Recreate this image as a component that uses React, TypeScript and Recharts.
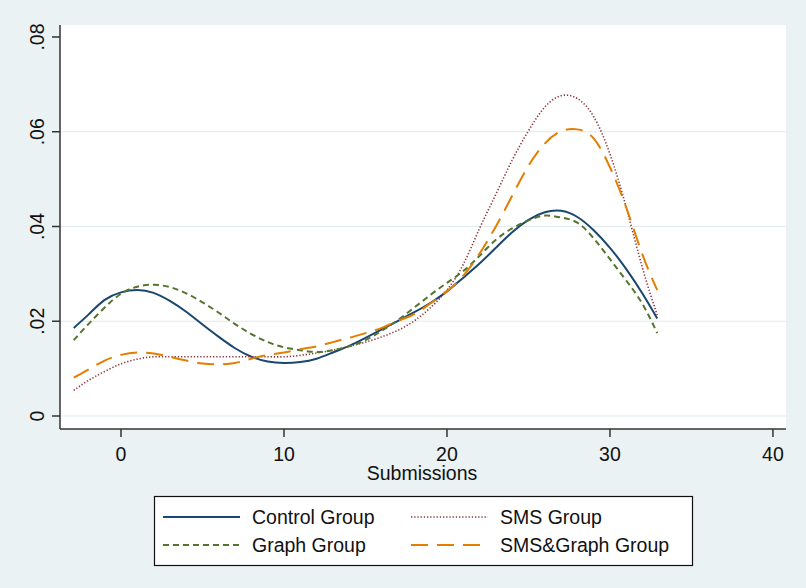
import React from 'react';
import { LineChart, Line, XAxis, YAxis, ReferenceArea, ReferenceLine } from 'recharts';

const xs = [-2.9, -2, -1, 0, 1, 2, 3, 4, 5, 6, 7, 8, 9, 10, 11, 12, 13, 14, 15, 16, 17, 18, 19, 20, 21, 22, 23, 24, 25, 26, 27, 28, 29, 30, 31, 32, 32.9];

const controlGroup = [0.0186, 0.0214, 0.0245, 0.0261, 0.0266, 0.0260, 0.0243, 0.0220, 0.0193, 0.0167, 0.0143, 0.0125, 0.0115, 0.0112, 0.0114, 0.0121, 0.0134, 0.0148, 0.0165, 0.0183, 0.0201, 0.0219, 0.0239, 0.0263, 0.0292, 0.0322, 0.0355, 0.0388, 0.0414, 0.0430, 0.0433, 0.0420, 0.0392, 0.0355, 0.0310, 0.0258, 0.0206];

const smsGroup = [0.0054, 0.0075, 0.0094, 0.0110, 0.0120, 0.0125, 0.0125, 0.0125, 0.0125, 0.0125, 0.0125, 0.0125, 0.0125, 0.0125, 0.0128, 0.0133, 0.0139, 0.0147, 0.0156, 0.0167, 0.0181, 0.0201, 0.0229, 0.0266, 0.0320, 0.0396, 0.0468, 0.0540, 0.0602, 0.0652, 0.0676, 0.0670, 0.0632, 0.0553, 0.0440, 0.0312, 0.0213];

const graphGroup = [0.0160, 0.0194, 0.0229, 0.0258, 0.0273, 0.0277, 0.0272, 0.0259, 0.0240, 0.0218, 0.0194, 0.0173, 0.0156, 0.0145, 0.0139, 0.0135, 0.0139, 0.0147, 0.0160, 0.0180, 0.0203, 0.0229, 0.0256, 0.0281, 0.0306, 0.0338, 0.0372, 0.0396, 0.0413, 0.0423, 0.0419, 0.0408, 0.0375, 0.0331, 0.0286, 0.0236, 0.0175];

const smsGraphGroup = [0.0081, 0.0098, 0.0117, 0.0129, 0.0134, 0.0132, 0.0125, 0.0117, 0.0111, 0.0109, 0.0112, 0.0121, 0.0129, 0.0134, 0.0141, 0.0147, 0.0156, 0.0165, 0.0175, 0.0186, 0.0201, 0.0215, 0.0238, 0.0263, 0.0296, 0.0343, 0.0400, 0.0465, 0.0528, 0.0575, 0.0601, 0.0605, 0.0586, 0.0525, 0.0440, 0.0340, 0.0266];

const xTicks = [0, 10, 20, 30, 40];
const yTicks = [0, 0.02, 0.04, 0.06, 0.08];
const yTickLabels = ['0', '.02', '.04', '.06', '.08'];
const gridValues = [0, 0.02, 0.04, 0.06];
const xTitle = 'Submissions';

const seriesNames = ['Control Group', 'SMS Group', 'Graph Group', 'SMS&Graph Group'];

const data = xs.map((x, i) => ({
  x,
  control: controlGroup[i],
  sms: smsGroup[i],
  graph: graphGroup[i],
  smsGraph: smsGraphGroup[i],
}));

const FONT = '"Liberation Sans", Arial, sans-serif';
const FS = 19.5;
const X_DOMAIN: [number, number] = [-3.742, 40.8];
const Y_DOMAIN: [number, number] = [-0.002744, 0.08253];

const styles = {
  control: { color: '#1A476F', dash: undefined as string | undefined, width: 2 },
  sms: { color: '#90353B', dash: '1.3 1.9', width: 1.6 },
  graph: { color: '#55752F', dash: '6 4', width: 2 },
  smsGraph: { color: '#E37E00', dash: '17 9', width: 2 },
};

const YTick = (props: any) => {
  const { x, y, payload } = props;
  const idx = yTicks.indexOf(payload.value);
  const label = idx >= 0 ? yTickLabels[idx] : String(payload.value);
  const tx = x - 6;
  return (
    <text x={tx} y={y} transform={`rotate(-90, ${tx}, ${y})`} textAnchor="middle" fontSize={FS} fontFamily={FONT} fill="#111">
      {label}
    </text>
  );
};

const XTick = (props: any) => {
  const { x, y, payload } = props;
  return (
    <text x={x} y={y} dy={22} textAnchor="middle" fontSize={FS} fontFamily={FONT} fill="#111">
      {payload.value}
    </text>
  );
};

const legendItems = [
  { key: 'control', name: seriesNames[0], lx: 163, tx: 252, ty: 517 },
  { key: 'sms', name: seriesNames[1], lx: 411, tx: 500, ty: 517 },
  { key: 'graph', name: seriesNames[2], lx: 163, tx: 252, ty: 545 },
  { key: 'smsGraph', name: seriesNames[3], lx: 411, tx: 500, ty: 545 },
];

export default function App() {
  return (
    <div style={{ position: 'fixed', left: 0, top: 0, width: 806, height: 588, background: '#EAF2F3' }}>
      <LineChart width={806} height={588} data={data} margin={{ top: 25, right: 20, left: 0, bottom: 0 }}>
        <XAxis
          dataKey="x"
          type="number"
          domain={X_DOMAIN}
          ticks={xTicks}
          allowDataOverflow
          height={159}
          tickSize={8}
          tick={<XTick />}
          axisLine={{ stroke: '#333', strokeWidth: 1.5 }}
          tickLine={{ stroke: '#333', strokeWidth: 1.5 }}
        />
        <YAxis
          type="number"
          domain={Y_DOMAIN}
          ticks={yTicks}
          allowDataOverflow
          width={60}
          tickSize={8}
          tick={<YTick />}
          axisLine={{ stroke: '#333', strokeWidth: 1.5 }}
          tickLine={{ stroke: '#333', strokeWidth: 1.5 }}
        />
        <ReferenceArea x1={X_DOMAIN[0]} x2={X_DOMAIN[1]} y1={Y_DOMAIN[0]} y2={Y_DOMAIN[1]} fill="#FFFFFF" fillOpacity={1} stroke="none" />
        {gridValues.map((g) => (
          <ReferenceLine key={g} y={g} stroke="#E1EAEC" strokeWidth={1.2} />
        ))}
        {(['control', 'sms', 'graph', 'smsGraph'] as const).map((k, i) => (
          <Line
            key={k}
            dataKey={k}
            name={seriesNames[i]}
            type="natural"
            stroke={styles[k].color}
            strokeWidth={styles[k].width}
            strokeDasharray={styles[k].dash}
            dot={false}
            activeDot={false}
            isAnimationActive={false}
          />
        ))}
      </LineChart>
      <svg width={806} height={588} style={{ position: 'absolute', left: 0, top: 0, pointerEvents: 'none' }}>
        <text x={422} y={480} textAnchor="middle" fontSize={FS} fontFamily={FONT} fill="#111">{xTitle}</text>
        <rect x={154.5} y={496.5} width={538} height={69} fill="#FFFFFF" stroke="#111" strokeWidth={1.2} />
        {legendItems.map((it) => {
          const s = (styles as any)[it.key];
          return (
            <g key={it.key}>
              <line x1={it.lx} x2={it.lx + 77} y1={it.ty} y2={it.ty} stroke={s.color} strokeWidth={s.width} strokeDasharray={s.dash} />
              <text x={it.tx} y={it.ty + 7} fontSize={FS} fontFamily={FONT} fill="#111">{it.name}</text>
            </g>
          );
        })}
      </svg>
    </div>
  );
}
